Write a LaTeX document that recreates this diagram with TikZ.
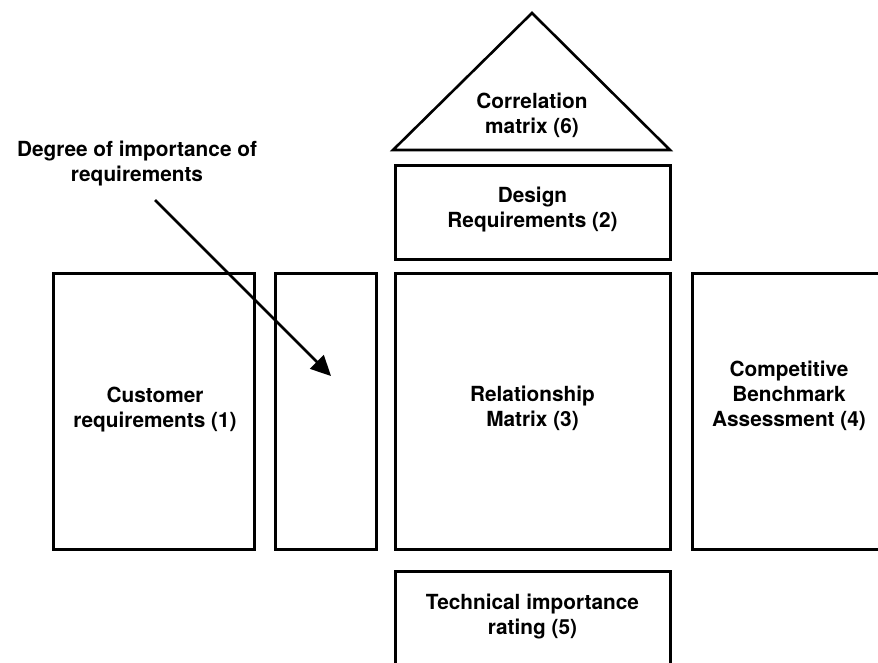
\documentclass[tikz,border=0pt]{standalone}
\usepackage{fontspec}
\setmainfont{TeX Gyre Heros}
\usetikzlibrary{arrows.meta}

\tikzset{
  block/.style={draw=black, line width=3pt, fill=none, inner sep=0pt,
                align=center, font=\labelfont},
  caption/.style={inner sep=0pt, align=center, font=\labelfont},
  pointer/.style={line width=2.8pt, -{Triangle[length=20pt, width=19pt]}},
}
\newcommand{\labelfont}{\fontsize{20.8}{25}\selectfont\bfseries}

\begin{document}
\begin{tikzpicture}[x=1pt, y=-1pt]
  % page frame
  \useasboundingbox (0,0) rectangle (878,662);
  \clip (0,0) rectangle (878,662);

  % roof: correlation matrix
  \draw[line width=2.6pt, line join=miter] (393,150) -- (532,13) -- (670,150) -- cycle;
  \node[caption] (corr) at (532,115) {Correlation\\matrix (6)};

  % design requirements
  \node[block, minimum width=275pt, minimum height=94pt] (design) at (532.5,212) {};
  \node[caption] (designtxt) at (532.5,210) {Design\\Requirements (2)};

  % main row of rooms
  \node[block, minimum width=201pt, minimum height=276pt] (cust) at (153.5,411) {};
  \node[caption] (custtxt) at (155,410) {Customer\\requirements (1)};

  \node[block, minimum width=101pt, minimum height=276pt] (imp) at (325.5,411) {};

  \node[block, minimum width=275pt, minimum height=276pt] (rel) at (532.5,411) {};
  \node[caption] (reltxt) at (532.5,408) {Relationship\\Matrix (3)};

  \node[block, minimum width=230pt, minimum height=276pt, anchor=west] (bench) at (691,411) {};
  \node[caption] (benchtxt) at (789,396) {Competitive\\Benchmark\\Assessment (4)};

  % basement: technical importance rating
  \node[block, minimum width=275pt, minimum height=130pt, anchor=north] (tech) at (532.5,570) {};
  \node[caption] (techtxt) at (532.5,617) {Technical importance\\rating (5)};

  % annotation with its pointer into the importance column
  \node[caption] (degree) at (137,164) {Degree of importance of\\requirements};
  \coordinate (pstart) at (155,200);
  \coordinate (ptip) at (331,376);
  \draw[pointer] (pstart) -- (ptip);
\end{tikzpicture}
\end{document}
